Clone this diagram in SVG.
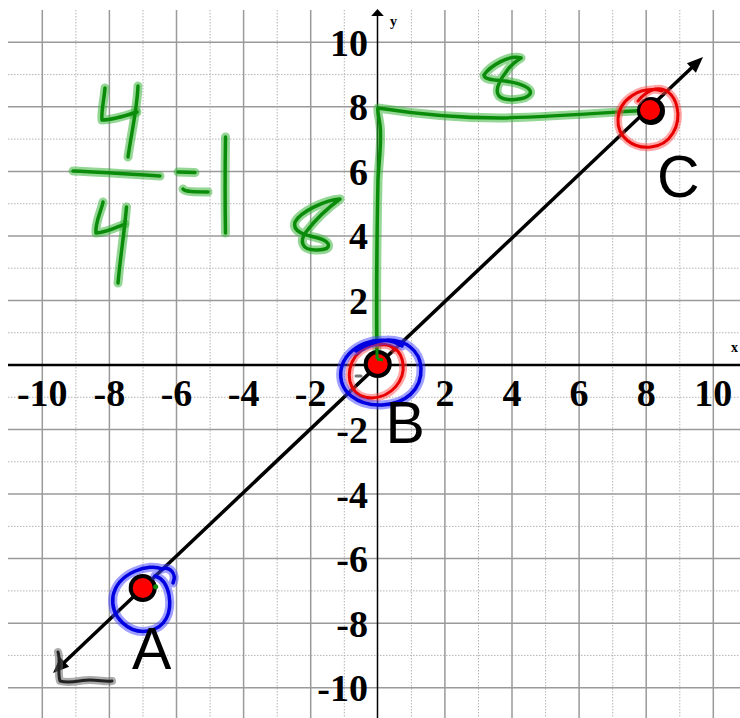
<svg xmlns="http://www.w3.org/2000/svg" xmlns:xlink="http://www.w3.org/1999/xlink" width="740" height="718" viewBox="0 0 740 718">
<style>
.gs{stroke:#9a9a9a;stroke-width:1.5;fill:none}
.gd{stroke:#b4b4b4;stroke-width:1;stroke-dasharray:1.5 1.5;fill:none}
.lab{font-family:"Liberation Serif","Times New Roman",serif;font-weight:bold;font-size:38px;fill:#000}
.xl{text-anchor:middle}
.yl{text-anchor:end}
.ax{font-family:"Liberation Serif","Times New Roman",serif;font-weight:bold;font-size:14px;fill:#000}
.pt{font-family:"Liberation Sans",Arial,sans-serif;font-size:59px;fill:#000}
.hg{fill:none;stroke:#3cb43c;stroke-opacity:0.55;stroke-width:9;stroke-linecap:round;stroke-linejoin:round}
.cg{fill:none;stroke:#0a8c0a;stroke-width:3.5;stroke-linecap:round;stroke-linejoin:round}
.hr{fill:none;stroke:#ff5050;stroke-opacity:0.5;stroke-width:8;stroke-linecap:round}
.cr{fill:none;stroke:#e80000;stroke-width:3;stroke-linecap:round}
.hb{fill:none;stroke:#4040ff;stroke-opacity:0.5;stroke-width:9;stroke-linecap:round}
.cb{fill:none;stroke:#0000e0;stroke-width:3.5;stroke-linecap:round}
.hk{fill:none;stroke:#666;stroke-opacity:0.55;stroke-width:8;stroke-linecap:round;stroke-linejoin:round}
.ck{fill:none;stroke:#222;stroke-width:3;stroke-linecap:round;stroke-linejoin:round}
</style>
<defs>
<g id="frac">
<path d="M105,88 C104,100 101,112 102,120 C112,120 125,116 137,112"/>
<path d="M138,86 C137,110 131,135 128,157"/>
<path d="M73,171 C100,172 130,174 160,176"/>
<path d="M178,172 L195,172.5"/>
<path d="M183,189 C185,192 195,192 208,192"/>
<path d="M225.5,137 C225,170 225,205 225.5,233"/>
<path d="M103,202 C101,212 95,222 96,233 C105,233 115,228 125,224"/>
<path d="M126.5,207 C124,235 120,260 118,283"/>
</g>
<g id="eights">
<path d="M377,359 L383,360"/>
<path d="M377,359 C376,300 377,230 378,180 C379,160 382,140 380,125 C379,116 377,111 378,108 C410,113 450,118 500,118 C550,117 600,113 650,110"/>
<path d="M340,199 C325,200 300,212 295,222 C292,232 305,235 318,238 C332,242 332,250 318,250 C300,251 300,240 306,232 C315,220 325,210 340,199"/>
<path d="M521,58 C510,54 490,66 484,75 C484,80 495,80 505,81 C520,83 533,88 530,94 C526,100 505,102 499,96 C494,90 500,80 506,72 C510,66 516,61 521,58"/>
</g>
</defs>
<rect width="740" height="718" fill="#fff"/>
<g id="grid">
<path class="gd" d="M75.9,10V718M143,10V718M210.1,10V718M277.2,10V718M344.3,10V718M411.4,10V718M478.5,10V718M545.6,10V718M612.7,10V718M679.8,10V718"/>
<path class="gd" d="M8,74.6H740M8,139.1H740M8,203.7H740M8,268.2H740M8,332.7H740M8,397.3H740M8,461.8H740M8,526.4H740M8,590.9H740M8,655.4H740"/>
<path class="gs" d="M42.3,10V718M109.4,10V718M176.5,10V718M243.6,10V718M310.7,10V718M444.9,10V718M512,10V718M579.1,10V718M646.2,10V718M713.3,10V718"/>
<path class="gs" d="M8,42.3H740M8,106.8H740M8,171.4H740M8,235.9H740M8,300.5H740M8,429.5H740M8,494.1H740M8,558.6H740M8,623.2H740M8,687.7H740"/>
</g>
<g id="axes">
<line x1="8" y1="365" x2="740" y2="365" stroke="#000" stroke-width="2.4"/>
<line x1="377.5" y1="14" x2="377.5" y2="718" stroke="#000" stroke-width="1.5"/>
<polygon points="377.5,9 371.2,16 383.8,16" fill="#000"/>
<text class="ax" x="390" y="26">y</text>
<text class="ax" x="731" y="352">x</text>
</g>
<g id="xlabels" class="lab xl">
<text x="42.3" y="406">-10</text>
<text x="109.4" y="406">-8</text>
<text x="176.5" y="406">-6</text>
<text x="243.6" y="406">-4</text>
<text x="310.7" y="406">-2</text>
<text x="444.9" y="406">2</text>
<text x="512" y="406">4</text>
<text x="579.1" y="406">6</text>
<text x="646.2" y="406">8</text>
<text x="713.3" y="406">10</text>
</g>
<g id="ylabels" class="lab yl">
<text x="368" y="55.5">10</text>
<text x="368" y="120.3">8</text>
<text x="368" y="184.9">6</text>
<text x="368" y="249.4">4</text>
<text x="368" y="314">2</text>
<text x="368" y="443">-2</text>
<text x="368" y="507.6">-4</text>
<text x="368" y="572.1">-6</text>
<text x="368" y="636.7">-8</text>
<text x="368" y="701.2">-10</text>
</g>
<g id="connectors">
<line x1="62" y1="664.5" x2="694" y2="65.5" stroke="#000" stroke-width="3.5"/>
<polygon points="703,57 695.9,72.7 686.9,63.3" fill="#000"/>
<polygon points="53,673 69.1,666.7 60.1,657.3" fill="#000"/>
</g>
<g id="annotations-under">
<use xlink:href="#eights" class="hg"/>
<use xlink:href="#eights" class="cg"/>
<use xlink:href="#frac" class="hg"/>
<use xlink:href="#frac" class="cg"/>
<path class="hk" d="M58,652 C61,661 57,672 60,681 C70,684 80,680 90,680 C100,680 105,682 112,681"/>
<path class="ck" d="M58,652 C61,661 57,672 60,681 C70,684 80,680 90,680 C100,680 105,682 112,681"/>
</g>
<g id="node-A">
<circle cx="142.7" cy="588" r="14" fill="#000"/>
<circle cx="142.7" cy="588" r="10" fill="#ff0000"/>
<circle cx="155.7" cy="586.7" r="2.5" fill="#0a8c0a"/>
<path class="hb" d="M173,583 C177,574 170,566 162,569 C150,563 118,572 113,596 C110,618 130,634 148,631 C166,628 172,612 169,595 C167,585 162,578 155,576"/>
<path class="cb" d="M173,583 C177,574 170,566 162,569 C150,563 118,572 113,596 C110,618 130,634 148,631 C166,628 172,612 169,595 C167,585 162,578 155,576"/>
<text class="pt" x="132" y="669">A</text>
</g>
<g id="node-B">
<circle cx="377.7" cy="364" r="14" fill="#000"/>
<circle cx="377.7" cy="364" r="10" fill="#ff0000"/>
<path d="M377,359 L377,345 M377,359 L383,360" stroke="#0a8c0a" stroke-width="3" fill="none"/>
<path class="hr" d="M395,350 C385,338 360,345 352,362 C345,380 352,398 372,398 C392,397 405,380 403,364 C401,350 392,343 380,345"/>
<path class="cr" d="M395,350 C385,338 360,345 352,362 C345,380 352,398 372,398 C392,397 405,380 403,364 C401,350 392,343 380,345"/>
<path class="hb" d="M402,346 C380,332 345,345 341,370 C338,392 358,406 382,405 C405,404 422,390 421,368 C420,350 405,340 388,340 C375,341 362,346 356,351"/>
<path class="cb" d="M402,346 C380,332 345,345 341,370 C338,392 358,406 382,405 C405,404 422,390 421,368 C420,350 405,340 388,340 C375,341 362,346 356,351"/>
<path d="M356,376 L361,376" stroke="#777" stroke-width="3" stroke-linecap="round"/>
<text class="pt" x="385.5" y="443">B</text>
</g>
<g id="node-C">
<circle cx="651" cy="111" r="14" fill="#000"/>
<circle cx="650" cy="110" r="10" fill="#ff0000"/>
<path class="hr" d="M662,91 C640,85 619,100 618,119 C617,137 633,149 651,147 C671,145 681,125 677,107 C674,94 665,87 655,89 C648,91 642,96 638,101"/>
<path class="cr" d="M662,91 C640,85 619,100 618,119 C617,137 633,149 651,147 C671,145 681,125 677,107 C674,94 665,87 655,89 C648,91 642,96 638,101"/>
<text class="pt" x="657" y="196.5">C</text>
</g>
</svg>
